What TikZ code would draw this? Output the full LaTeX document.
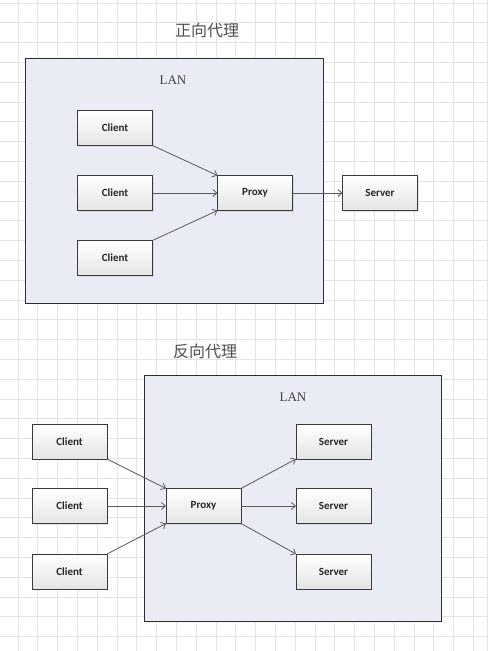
\documentclass[tikz,border=0pt]{standalone}
\usepackage{fontspec}
\setmainfont{Liberation Serif}
\newfontfamily\boxfont{Carlito}
\newfontfamily\cjkfont{Noto Sans CJK SC}
\usetikzlibrary{arrows.meta,shadows}
\definecolor{gridc}{HTML}{E4E4E4}
\definecolor{lanfill}{HTML}{E9ECF4}
\definecolor{lanline}{HTML}{2E2E2E}
\definecolor{boxline}{HTML}{3A3A3A}
\definecolor{boxbot}{HTML}{E4E4E4}
\definecolor{arrc}{HTML}{5A5A5A}
\definecolor{titlec}{HTML}{505050}
\begin{document}
\begin{tikzpicture}[x=1pt,y=-1pt,
  gridline/.style={draw=gridc, line width=0.9pt},
  lan/.style={draw=lanline, line width=1pt, fill=lanfill},
  box/.style={draw=boxline, line width=0.8pt, top color=white, bottom color=boxbot,
    minimum width=75pt, minimum height=35pt, inner sep=0pt, outer sep=0pt,
    font=\boxfont\bfseries\fontsize{11}{13}\selectfont, text=black!85,
    drop shadow={opacity=0.2, shadow xshift=1pt, shadow yshift=-1pt}},
  lanlabel/.style={font=\fontsize{13}{15}\selectfont, text=black!75},
  titlelabel/.style={font=\cjkfont\fontsize{16}{19}\selectfont, text=titlec},
  arr/.style={draw=arrc, line width=0.8pt, -{Straight Barb[length=4pt,width=7pt]}}]
\useasboundingbox (0,0) rectangle (500,651);
\fill[white] (0,0) rectangle (500,651);
% grid
\foreach \i in {0,...,23} \draw[gridline] ({18+19.8*\i},0) -- ({18+19.8*\i},651);
\draw[gridline] (487,0) -- (487,651);
\foreach \j in {0,...,32} \draw[gridline] (0,{3+19.8*\j}) -- (487,{3+19.8*\j});

% ---------- forward proxy ----------
\node[titlelabel] (t1) at (207,30) {正向代理};
\draw[lan] (25,58) rectangle (323,303);
\node[lanlabel] (lan1) at (173,80) {LAN};
\node[box] (c1) at (115,128) {Client};
\node[box] (c2) at (115,193) {Client};
\node[box] (c3) at (115,258) {Client};
\node[box] (p1) at (255,193) {Proxy};
\node[box] (s1) at (380,193) {Server};
\draw[arr] (c1.south east) -- (p1.north west);
\draw[arr] (c2.east) -- (p1.west);
\draw[arr] (c3.north east) -- (p1.south west);
\draw[arr] (p1.east) -- (s1.west);

% ---------- reverse proxy ----------
\node[titlelabel] (t2) at (205,351) {反向代理};
\draw[lan] (144,375) rectangle (441,621);
\node[lanlabel] (lan2) at (293,397) {LAN};
\node[box] (d1) at (69.5,441.5) {Client};
\node[box] (d2) at (69.5,506) {Client};
\node[box] (d3) at (69.5,571.5) {Client};
\node[box] (p2) at (203.5,506) {Proxy};
\node[box] (r1) at (333.5,441.5) {Server};
\node[box] (r2) at (333.5,506) {Server};
\node[box] (r3) at (333.5,571.5) {Server};
\draw[arr] (d1.south east) -- (p2.north west);
\draw[arr] (d2.east) -- (p2.west);
\draw[arr] (d3.north east) -- (p2.south west);
\draw[arr] (p2.north east) -- (r1.south west);
\draw[arr] (p2.east) -- (r2.west);
\draw[arr] (p2.south east) -- (r3.north west);
\end{tikzpicture}
\end{document}
